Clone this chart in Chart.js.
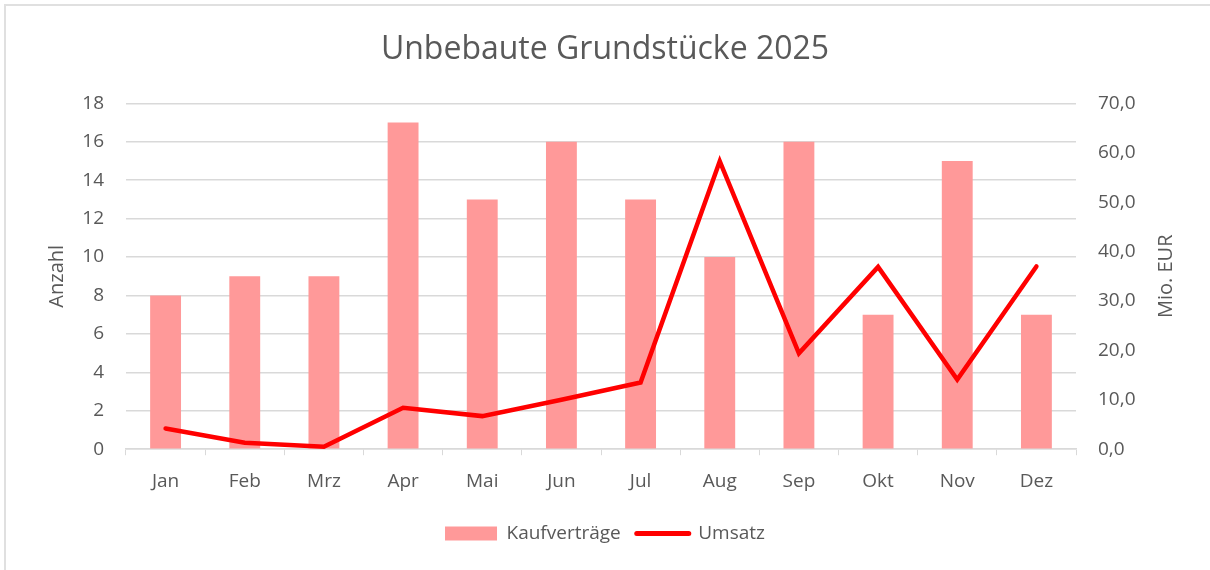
<!DOCTYPE html>
<html>
<head>
<meta charset="utf-8">
<script src="https://cdn.jsdelivr.net/npm/chart.js@4.4.0/dist/chart.umd.min.js"></script>
<style>
  html, body { margin: 0; padding: 0; background: #fff; }
  #wrap { position: relative; width: 1210px; height: 570px; overflow: hidden; }
  #frame { position: absolute; left: 4px; top: 4px; width: 1210px; height: 570px;
           border-left: 2px solid #e0e0e0; border-top: 2px solid #e0e0e0; box-sizing: border-box; pointer-events: none; }
  canvas { position: absolute; left: 0; top: 0; }
</style>
</head>
<body>
<div id="wrap">
  <canvas id="c" width="1210" height="570"></canvas>
  <div id="frame"></div>
</div>
<script>
const categories = ['Jan', 'Feb', 'Mrz', 'Apr', 'Mai', 'Jun', 'Jul', 'Aug', 'Sep', 'Okt', 'Nov', 'Dez'];
const kaufvertraege = [8, 9, 9, 17, 13, 16, 13, 10, 16, 7, 15, 7];
const umsatz = [4.2, 1.3, 0.5, 8.4, 6.7, 10.0, 13.5, 58.3, 19.4, 36.9, 14.1, 37.0];
const chartTitle = 'Unbebaute Grundstücke 2025';
const leftAxisTitle = 'Anzahl';
const rightAxisTitle = 'Mio. EUR';

const FONT = "'Open Sans', 'Liberation Sans', sans-serif";
const TXT = '#595959';
const GRID = '#d9d9d9';

const rightTitlePlugin = {
  id: 'rightTitle',
  afterDraw(chart) {
    const s = chart.scales.y1;
    const ctx = chart.ctx;
    ctx.save();
    ctx.translate(1166, (s.top + s.bottom) / 2);
    ctx.rotate(-Math.PI / 2);
    ctx.fillStyle = TXT;
    ctx.font = '20px ' + FONT;
    ctx.textAlign = 'center';
    ctx.textBaseline = 'middle';
    ctx.fillText(rightAxisTitle, 0, 0);
    ctx.restore();
  }
};

new Chart(document.getElementById('c'), {
  data: {
    labels: categories,
    datasets: [
      {
        type: 'line',
        label: 'Umsatz',
        data: umsatz,
        yAxisID: 'y1',
        borderColor: '#ff0000',
        backgroundColor: '#ff0000',
        borderWidth: 4.5,
        borderCapStyle: 'round',
        pointRadius: 0,
        pointStyle: 'line',
        tension: 0,
        order: 0
      },
      {
        type: 'bar',
        label: 'Kaufverträge',
        data: kaufvertraege,
        yAxisID: 'y',
        backgroundColor: '#ff9999',
        borderWidth: 0,
        pointStyle: 'rect',
        barPercentage: 0.39,
        categoryPercentage: 1.0,
        order: 1
      }
    ]
  },
  plugins: [rightTitlePlugin],
  options: {
    responsive: false,
    animation: false,
    layout: { padding: { left: 0, right: 0, top: 0, bottom: 17 } },
    plugins: {
      title: {
        display: true,
        text: chartTitle,
        color: TXT,
        font: { family: FONT, size: 32, weight: 'normal' },
        padding: { top: 31, bottom: 34 }
      },
      legend: {
        position: 'bottom',
        reverse: true,
        labels: {
          color: TXT,
          font: { family: FONT, size: 19 },
          usePointStyle: true,
          pointStyleWidth: 52,
          boxWidth: 52,
          boxHeight: 14,
          padding: 16,
          generateLabels(chart) {
            const items = Chart.defaults.plugins.legend.labels.generateLabels(chart);
            items.forEach(it => {
              if (it.text === 'Umsatz') {
                it.pointStyle = 'line';
                it.lineWidth = 5;
                it.lineCap = 'round';
                it.strokeStyle = '#ff0000';
              } else {
                it.pointStyle = 'rect';
                it.lineWidth = 0;
              }
            });
            return items;
          }
        }
      },
      tooltip: { enabled: false }
    },
    scales: {
      x: {
        offset: true,
        grid: { display: true, drawOnChartArea: false, drawTicks: true, tickLength: 6, color: GRID, offset: true },
        border: { display: true, color: GRID, width: 1.5 },
        ticks: { color: TXT, font: { family: FONT, size: 19 }, padding: 15 }
      },
      y: {
        position: 'left',
        min: 0, max: 18,
        ticks: { stepSize: 2, color: TXT, font: { family: FONT, size: 19 }, padding: 22 },
        grid: { color: GRID, lineWidth: 1.5, drawTicks: false },
        border: { display: false },
        title: { display: true, text: leftAxisTitle, color: TXT, font: { family: FONT, size: 20 }, padding: { top: 45, bottom: 0 } },
        afterFit(s) { s.width = 126; }
      },
      y1: {
        position: 'right',
        min: 0, max: 70,
        ticks: {
          stepSize: 10, color: TXT, font: { family: FONT, size: 19 }, padding: 22,
          callback: v => v.toFixed(1).replace('.', ',')
        },
        grid: { drawOnChartArea: false, drawTicks: false },
        border: { display: false },
        title: { display: false },
        afterFit(s) { s.width = 134; }
      }
    }
  }
});
</script>
</body>
</html>
